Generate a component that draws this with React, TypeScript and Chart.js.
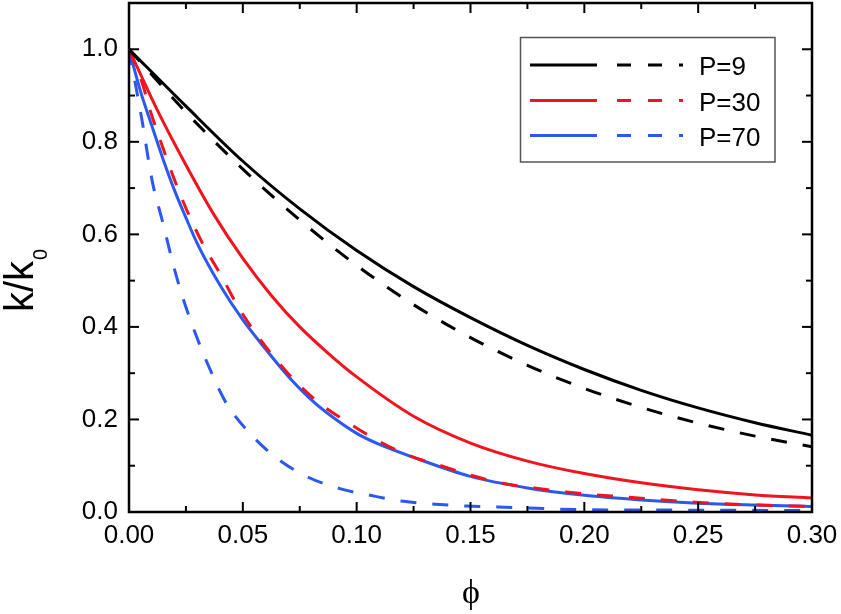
import React, { useEffect, useRef } from "react";
import { Chart, registerables } from "chart.js";
Chart.register(...registerables);

// ---- data ----
const P9_SOLID_X = [0, 0.025, 0.05, 0.075, 0.1, 0.125, 0.15, 0.175, 0.2, 0.225, 0.25, 0.275, 0.3];
const P9_SOLID_Y = [1.0, 0.877, 0.758, 0.655, 0.565, 0.487, 0.42, 0.36, 0.308, 0.263, 0.225, 0.193, 0.166];

const P9_DASH_X = [0, 0.025, 0.05, 0.075, 0.1, 0.125, 0.15, 0.175, 0.2, 0.225, 0.25, 0.275, 0.3];
const P9_DASH_Y = [1.0, 0.864, 0.741, 0.631, 0.533, 0.448, 0.377, 0.317, 0.267, 0.226, 0.192, 0.164, 0.141];

const P30_SOLID_X = [0, 0.0125, 0.025, 0.0375, 0.05, 0.0625, 0.075, 0.0875, 0.1, 0.125, 0.15, 0.175, 0.2, 0.225, 0.25, 0.275, 0.3];
const P30_SOLID_Y = [1.0, 0.868, 0.75, 0.641, 0.548, 0.468, 0.4, 0.343, 0.292, 0.207, 0.149, 0.11, 0.083, 0.063, 0.048, 0.037, 0.03];

const P30_DASH_X = [0, 0.0056, 0.0098, 0.0154, 0.0202, 0.0263, 0.0329, 0.0406, 0.048, 0.0573, 0.0687, 0.0814, 0.0953, 0.1094, 0.123, 0.137, 0.1506, 0.164, 0.178, 0.192, 0.219, 0.249, 0.276, 0.3];
const P30_DASH_Y = [1.0, 0.93, 0.86, 0.78, 0.715, 0.642, 0.575, 0.51, 0.443, 0.375, 0.306, 0.244, 0.196, 0.154, 0.122, 0.1, 0.079, 0.062, 0.052, 0.043, 0.032, 0.021, 0.015, 0.012];

const P70_SOLID_X = [0, 0.005, 0.01, 0.015, 0.02, 0.025, 0.03, 0.04, 0.05, 0.06, 0.07, 0.08, 0.09, 0.1, 0.11, 0.125, 0.15, 0.175, 0.2, 0.225, 0.25, 0.275, 0.3];
const P70_SOLID_Y = [1.0, 0.91, 0.835, 0.762, 0.695, 0.636, 0.58, 0.49, 0.415, 0.352, 0.293, 0.243, 0.203, 0.17, 0.146, 0.118, 0.077, 0.052, 0.036, 0.026, 0.019, 0.015, 0.012];

const P70_DASH_X = [0, 0.003, 0.0056, 0.0102, 0.0146, 0.0205, 0.0249, 0.03, 0.0358, 0.0424, 0.0529, 0.0658, 0.0792, 0.093, 0.107, 0.1206, 0.1345, 0.148, 0.162, 0.2, 0.25, 0.3];
const P70_DASH_Y = [1.0, 0.92, 0.85, 0.715, 0.63, 0.515, 0.444, 0.375, 0.306, 0.238, 0.171, 0.113, 0.074, 0.05, 0.035, 0.023, 0.017, 0.013, 0.011, 0.005, 0.004, 0.003];

const LEGEND_LABELS = ["P=9", "P=30", "P=70"];
const SERIES_COLORS = ["#000000", "#f0141e", "#2b59f0"];

const X_MAJOR = [0, 0.05, 0.1, 0.15, 0.2, 0.25, 0.3];
const X_MINOR = [0.025, 0.075, 0.125, 0.175, 0.225, 0.275];
const Y_MAJOR = [0, 0.2, 0.4, 0.6, 0.8, 1.0];
const Y_MINOR = [0.1, 0.3, 0.5, 0.7, 0.9];

const FONT = "'Liberation Sans', Arial, sans-serif";

const pts = (xs: number[], ys: number[]) => xs.map((x, i) => ({ x, y: ys[i] }));

const mk = (label: string, xs: number[], ys: number[], color: string, dashed: boolean) => ({
  label,
  data: pts(xs, ys),
  borderColor: color,
  backgroundColor: color,
  borderWidth: 3,
  borderDash: dashed ? [16, 16] : [],
  pointRadius: 0,
  fill: false,
  cubicInterpolationMode: "monotone" as const,
});

const decorPlugin = {
  id: "decor",
  afterDraw(chart: any) {
    const ctx = chart.ctx as CanvasRenderingContext2D;
    const { left, right, top, bottom } = chart.chartArea;
    const xs = chart.scales.x;
    const ys = chart.scales.y;
    ctx.save();
    ctx.strokeStyle = "#000";
    ctx.lineWidth = 2.5;
    ctx.setLineDash([]);
    ctx.strokeRect(left, top, right - left, bottom - top);
    ctx.lineWidth = 2;
    const tick = (x1: number, y1: number, x2: number, y2: number) => {
      ctx.beginPath();
      ctx.moveTo(x1, y1);
      ctx.lineTo(x2, y2);
      ctx.stroke();
    };
    X_MAJOR.forEach((v) => {
      const p = xs.getPixelForValue(v);
      tick(p, bottom, p, bottom - 10);
      tick(p, top, p, top + 10);
    });
    X_MINOR.forEach((v) => {
      const p = xs.getPixelForValue(v);
      tick(p, bottom, p, bottom - 6);
      tick(p, top, p, top + 6);
    });
    Y_MAJOR.forEach((v) => {
      const p = ys.getPixelForValue(v);
      tick(left, p, left + 10, p);
      tick(right, p, right - 10, p);
    });
    Y_MINOR.forEach((v) => {
      const p = ys.getPixelForValue(v);
      tick(left, p, left + 6, p);
      tick(right, p, right - 6, p);
    });

    // legend
    ctx.strokeStyle = "#555";
    ctx.lineWidth = 1.5;
    ctx.strokeRect(520.5, 37.5, 254.5, 124.5);
    const rows = [65, 100.5, 135.5];
    rows.forEach((ry, i) => {
      ctx.strokeStyle = SERIES_COLORS[i];
      ctx.lineWidth = 3;
      ctx.setLineDash([]);
      tick(530, ry, 597, ry);
      ctx.setLineDash([14, 17]);
      tick(617, ry, 683, ry);
      ctx.setLineDash([]);
      ctx.fillStyle = "#000";
      ctx.font = `26px ${FONT}`;
      ctx.textAlign = "left";
      ctx.textBaseline = "alphabetic";
      ctx.fillText(LEGEND_LABELS[i], 699, ry + 10);
    });

    // y title k/k0
    ctx.save();
    ctx.translate(33, 312);
    ctx.rotate(-Math.PI / 2);
    ctx.fillStyle = "#000";
    ctx.font = `40px ${FONT}`;
    ctx.textAlign = "left";
    ctx.textBaseline = "alphabetic";
    ctx.fillText("k/k", 0, 0);
    const w = ctx.measureText("k/k").width;
    ctx.font = `20px ${FONT}`;
    ctx.fillText("0", w + 1, 14);
    ctx.restore();

    // x title phi
    ctx.fillStyle = "#000";
    ctx.font = `34px 'Liberation Serif', 'DejaVu Serif', serif`;
    ctx.textAlign = "center";
    ctx.textBaseline = "alphabetic";
    ctx.fillText("\u03D5", 471, 603);
    ctx.restore();
  },
};

export default function App() {
  const ref = useRef<HTMLCanvasElement | null>(null);
  useEffect(() => {
    if (!ref.current) return;
    const chart = new Chart(ref.current, {
      type: "line",
      data: {
        datasets: [
          mk("P=9", P9_SOLID_X, P9_SOLID_Y, SERIES_COLORS[0], false),
          mk("P=9 dashed", P9_DASH_X, P9_DASH_Y, SERIES_COLORS[0], true),
          mk("P=30", P30_SOLID_X, P30_SOLID_Y, SERIES_COLORS[1], false),
          mk("P=30 dashed", P30_DASH_X, P30_DASH_Y, SERIES_COLORS[1], true),
          mk("P=70", P70_SOLID_X, P70_SOLID_Y, SERIES_COLORS[2], false),
          mk("P=70 dashed", P70_DASH_X, P70_DASH_Y, SERIES_COLORS[2], true),
        ],
      },
      options: {
        responsive: false,
        animation: false,
        layout: { padding: { left: 0, top: 3, right: 29, bottom: 0 } },
        plugins: { legend: { display: false }, tooltip: { enabled: false } },
        scales: {
          x: {
            type: "linear",
            min: 0,
            max: 0.3,
            grid: { display: false, drawTicks: false },
            border: { display: false },
            ticks: {
              stepSize: 0.05,
              autoSkip: false,
              maxRotation: 0,
              padding: 8,
              color: "#000",
              font: { family: FONT, size: 26 },
              callback: (v: any) => Number(v).toFixed(2),
            },
            afterFit: (s: any) => {
              s.height = 102;
              s.paddingLeft = 0;
              s.paddingRight = 0;
            },
          },
          y: {
            type: "linear",
            min: 0,
            max: 1.1,
            grid: { display: false, drawTicks: false },
            border: { display: false },
            ticks: {
              stepSize: 0.2,
              autoSkip: false,
              padding: 11,
              color: "#000",
              font: { family: FONT, size: 26 },
              callback: (v: any) => (Number(v) > 1.05 ? "" : Number(v).toFixed(1)),
            },
            afterFit: (s: any) => {
              s.width = 129;
              s.paddingTop = 0;
              s.paddingBottom = 0;
            },
          },
        },
      },
      plugins: [decorPlugin],
    });
    return () => chart.destroy();
  }, []);
  return (
    <div style={{ position: "absolute", left: 0, top: 0, width: 841, height: 614, background: "#fff" }}>
      <canvas ref={ref} width={841} height={614} style={{ display: "block" }} />
    </div>
  );
}
